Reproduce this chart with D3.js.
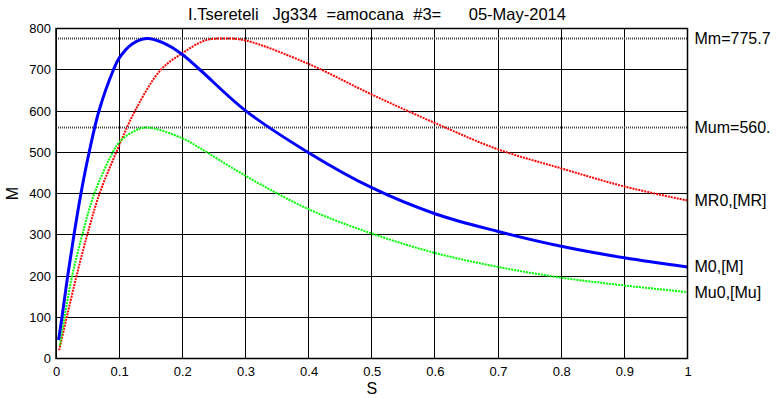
<!DOCTYPE html>
<html>
<head>
<meta charset="utf-8">
<script src="https://cdn.jsdelivr.net/npm/d3@7"></script>
<style>
  body { margin: 0; background: #fff; }
  text { font-family: "Liberation Sans", Arial, sans-serif; fill: #000; }
</style>
</head>
<body>
<div id="chart"></div>
<script>
// ---- data ----
const titleText = "I.Tsereteli   Jg334  =amocana  #3=      05-May-2014";
const xTicks = [0, 0.1, 0.2, 0.3, 0.4, 0.5, 0.6, 0.7, 0.8, 0.9, 1];
const yTicks = [0, 100, 200, 300, 400, 500, 600, 700, 800];

// M (blue, solid)
const sM    = [0.004, 0.0095, 0.0185, 0.0285, 0.0395, 0.0525, 0.068, 0.091, 0.1, 0.12, 0.1436, 0.17, 0.2, 0.228, 0.3, 0.4, 0.5, 0.6, 0.7, 0.8, 0.9, 1.0];
const mVals = [45, 100, 200, 300, 400, 500, 600, 700, 728, 762, 775.7, 765, 737, 700, 601, 499, 414, 351, 308, 272, 244, 222];

// MR (red, dotted)
const sMR    = [0.005, 0.017, 0.0325, 0.0495, 0.069, 0.0955, 0.125, 0.166, 0.2, 0.236, 0.265, 0.3, 0.4, 0.5, 0.6, 0.7, 0.8, 0.9, 1.0];
const mrVals = [20, 100, 200, 300, 400, 500, 600, 700, 740, 771, 775.7, 771, 714, 640, 571, 507, 461, 417, 383];

// Mu (green, dotted)
const sMu    = [0.006, 0.0135, 0.0255, 0.0417, 0.0607, 0.09, 0.1, 0.12, 0.142, 0.2, 0.228, 0.3, 0.4, 0.5, 0.6, 0.7, 0.8, 0.9, 1.0];
const muVals = [32, 100, 200, 300, 400, 500, 524, 548, 560, 534, 510, 443, 362, 303, 256, 222, 196, 177, 161];

const refNames  = ["Mm=775.7", "Mum=560."];
const refValues = [775.7, 560];
const endNames  = ["MR0,[MR]", "M0,[M]", "Mu0,[Mu]"];

// ---- layout ----
const W = 779, H = 398;
const x0 = 56, x1 = 687.5, yTop = 28.5, yBot = 358.5;

const svg = d3.select("#chart").append("svg")
  .attr("width", W).attr("height", H);

const x = d3.scaleLinear().domain([0, 1]).range([x0, x1]);
const y = d3.scaleLinear().domain([0, 800]).range([yBot, yTop]);

// grid
const grid = svg.append("g").attr("shape-rendering", "crispEdges");
grid.selectAll("line.gx").data(xTicks).join("line")
  .attr("x1", d => x(d)).attr("x2", d => x(d))
  .attr("y1", yTop).attr("y2", yBot)
  .attr("stroke", "#000").attr("stroke-width", 1);
grid.selectAll("line.gy").data(yTicks).join("line")
  .attr("x1", x0).attr("x2", x1)
  .attr("y1", d => y(d)).attr("y2", d => y(d))
  .attr("stroke", "#000").attr("stroke-width", 1);

// reference levels
svg.selectAll("line.ref").data(refValues).join("line")
  .attr("x1", x0).attr("x2", x1)
  .attr("y1", d => y(d)).attr("y2", d => y(d))
  .attr("stroke", "#444").attr("stroke-width", 2)
  .attr("stroke-dasharray", "1,1");

// axes (labels only; box drawn below)
const xAxis = d3.axisBottom(x).tickValues(xTicks).tickSize(0).tickPadding(8)
  .tickFormat(d => d3.format("~g")(d));
svg.append("g").attr("transform", `translate(0,${yBot})`).call(xAxis)
  .call(g => g.select(".domain").remove())
  .selectAll("text").attr("font-size", 13).attr("font-family", "Liberation Sans, Arial, sans-serif");

const yAxis = d3.axisLeft(y).tickValues(yTicks).tickSize(0).tickPadding(5);
svg.append("g").attr("transform", `translate(${x0},0)`).call(yAxis)
  .call(g => g.select(".domain").remove())
  .selectAll("text").attr("font-size", 13).attr("font-family", "Liberation Sans, Arial, sans-serif");

// curves
const line = d3.line().x(d => x(d[0])).y(d => y(d[1])).curve(d3.curveCatmullRom.alpha(0.5));
const zip = (a, b) => a.map((v, i) => [v, b[i]]);

svg.append("path").datum(zip(sMR, mrVals))
  .attr("d", line).attr("fill", "none")
  .attr("stroke", "#ff0000").attr("stroke-width", 2).attr("stroke-dasharray", "2,1");
svg.append("path").datum(zip(sMu, muVals))
  .attr("d", line).attr("fill", "none")
  .attr("stroke", "#00ff00").attr("stroke-width", 2).attr("stroke-dasharray", "2,1");
svg.append("path").datum(zip(sM, mVals))
  .attr("d", line).attr("fill", "none")
  .attr("stroke", "#0000ff").attr("stroke-width", 3);

// box
svg.append("rect")
  .attr("x", x0).attr("y", yTop).attr("width", x1 - x0).attr("height", yBot - yTop)
  .attr("fill", "none").attr("stroke", "#000").attr("stroke-width", 1.5);

// right labels
const lastVals = [mrVals[mrVals.length - 1], mVals[mVals.length - 1], muVals[muVals.length - 1]];
const labels = refNames.map((t, i) => [t, refValues[i]])
  .concat(endNames.map((t, i) => [t, lastVals[i]]));
svg.selectAll("text.rl").data(labels).join("text")
  .attr("class", "rl")
  .attr("x", x1 + 7).attr("y", d => y(d[1]) + 5.5)
  .attr("font-size", 16)
  .text(d => d[0]);

// title and axis labels
svg.append("text")
  .attr("x", 377).attr("y", 20)
  .attr("text-anchor", "middle").attr("font-size", 16.5)
  .style("white-space", "pre")
  .text(titleText);

svg.append("text")
  .attr("x", (x0 + x1) / 2).attr("y", 394)
  .attr("text-anchor", "middle").attr("font-size", 16)
  .text("S");

svg.append("text")
  .attr("transform", `translate(18,${(yTop + yBot) / 2}) rotate(-90)`)
  .attr("text-anchor", "middle").attr("font-size", 16)
  .text("M");
</script>
</body>
</html>
